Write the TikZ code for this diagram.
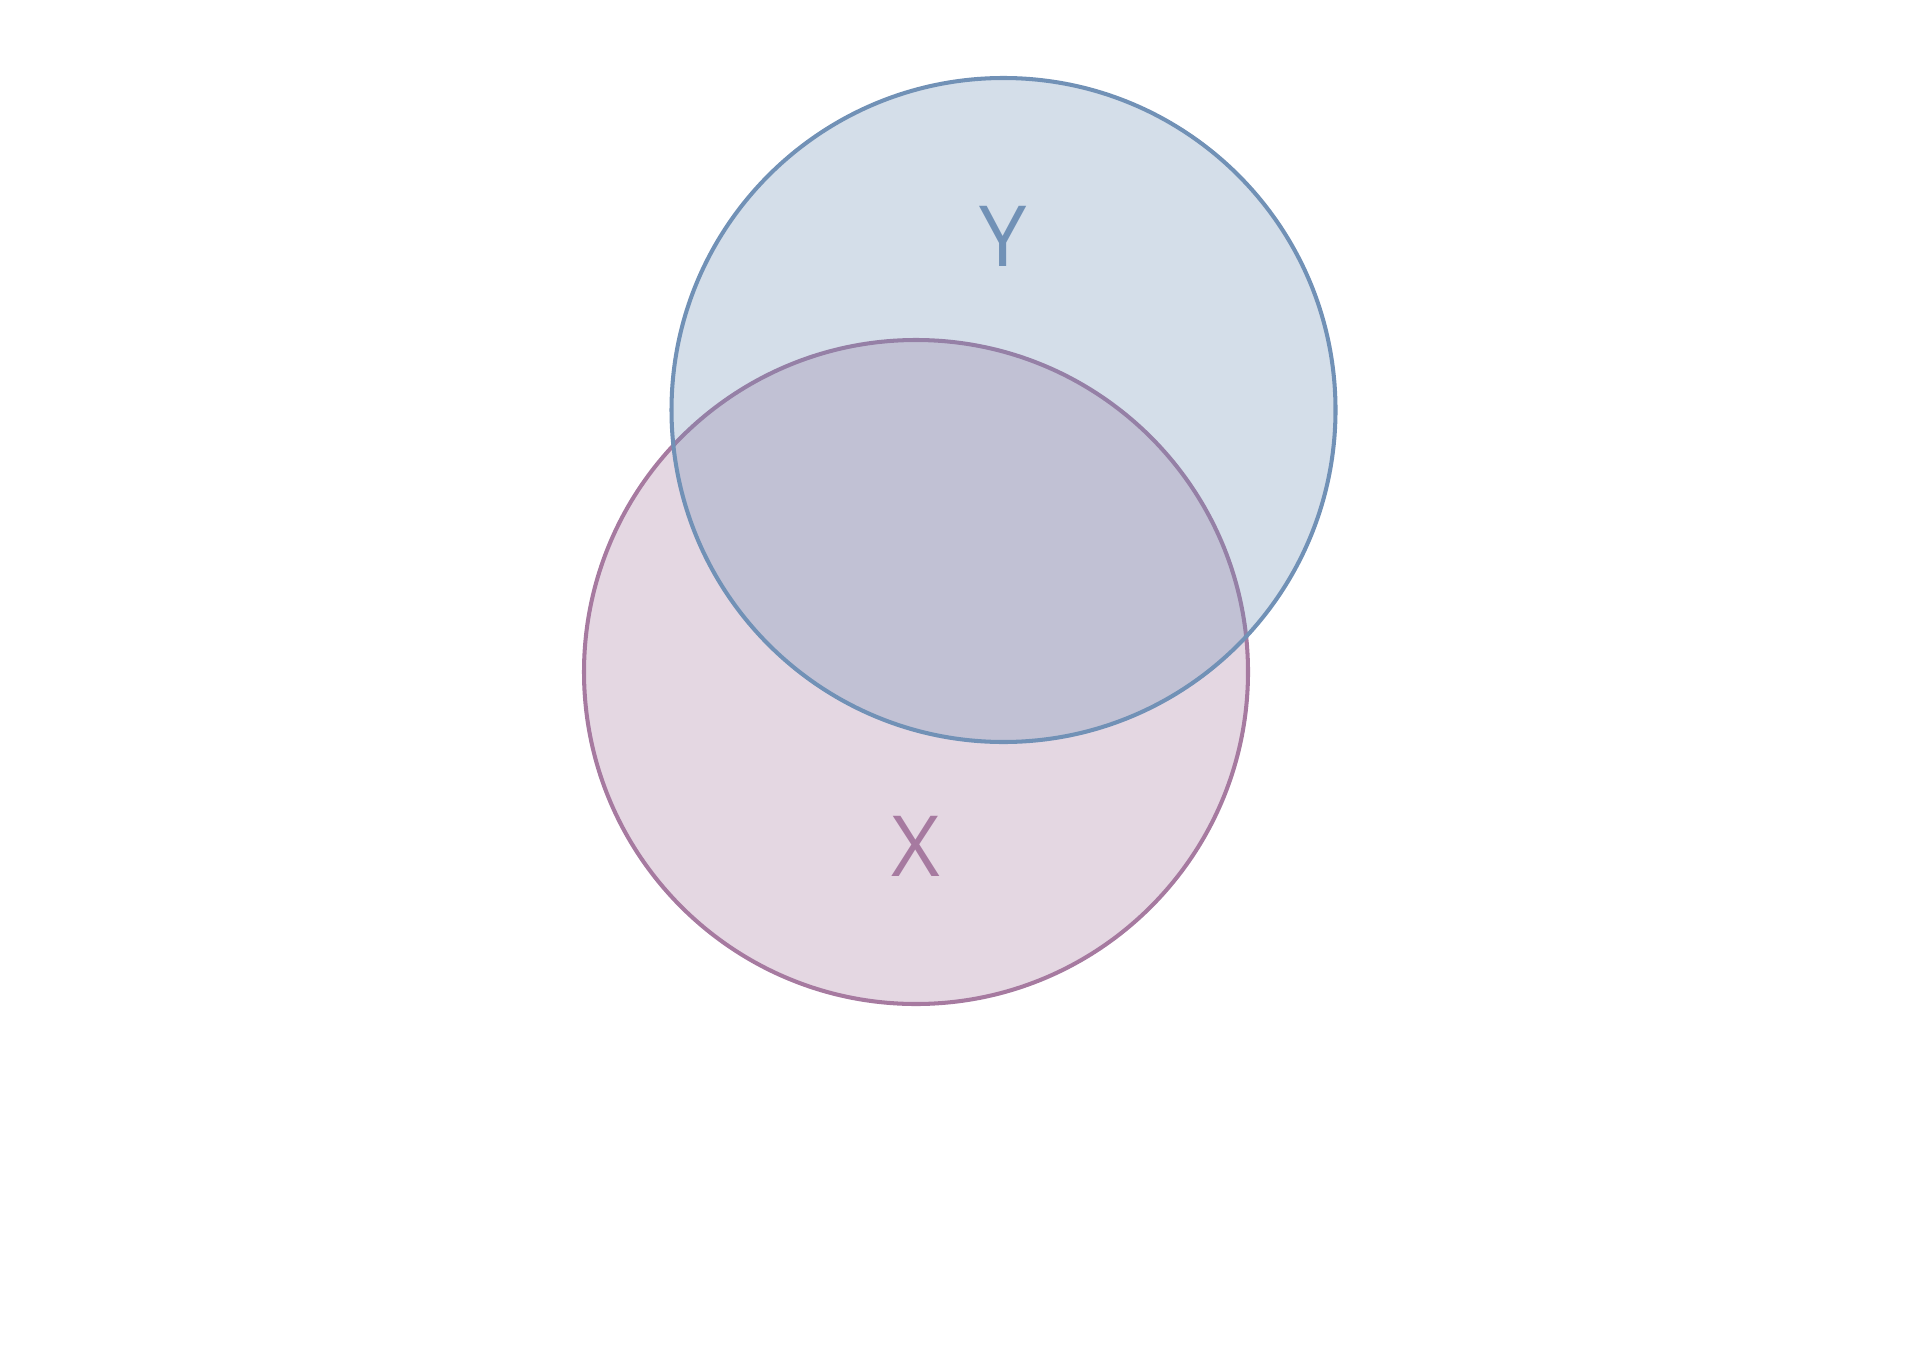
\documentclass[tikz,border=0pt]{standalone}
\usepackage{fontspec}
\setmainfont{Open Sans}
\definecolor{setx}{HTML}{A67AA0}
\definecolor{sety}{HTML}{7191B6}

\begin{document}
\begin{tikzpicture}
   \tikzstyle{set}=[circle,minimum size=6.64cm,inner sep=0pt,line width=1.15pt,fill opacity=0.3]
   \tikzstyle{setname}=[font=\fontsize{24}{28}\selectfont]
   \useasboundingbox (0,0) rectangle (19.2,13.44) ;

   \node (x) [set,draw=setx,fill=setx] at (9.16,6.72) {} ;
   \node (y) [set,draw=sety,fill=sety] at (10.035,9.34) {} ;

   \node (xname) [setname,text=setx] at (9.16,4.98) {X} ;
   \node (yname) [setname,text=sety] at (10.03,11.08) {Y} ;

\end{tikzpicture}
\end{document}
